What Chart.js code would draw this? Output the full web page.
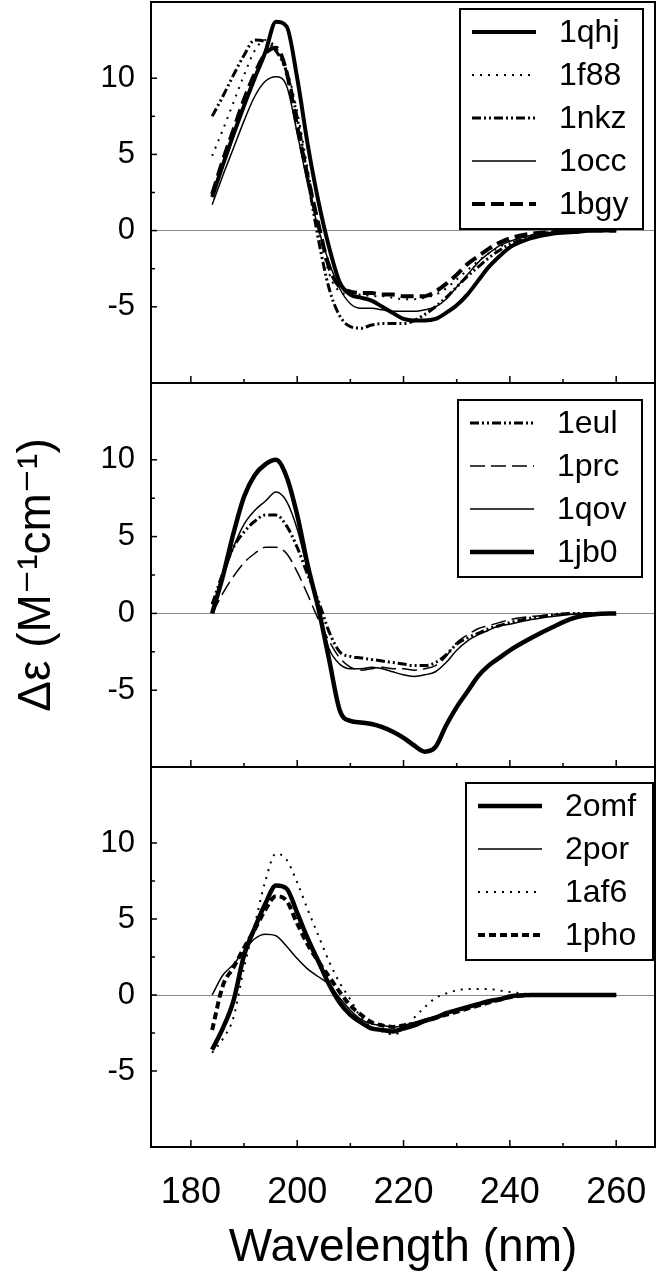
<!DOCTYPE html>
<html>
<head>
<meta charset="utf-8">
<script src="https://cdn.jsdelivr.net/npm/chart.js@4"></script>
<style>
  html, body { margin: 0; padding: 0; background: #fff; }
  #wrap { position: relative; width: 663px; height: 1280px; }
  canvas { position: absolute; left: 0; }
</style>
</head>
<body>
<div id="wrap">
  <canvas id="cdTop" width="663" height="385" style="top:0px"></canvas>
  <canvas id="cdMid" width="663" height="388" style="top:381px"></canvas>
  <canvas id="cdBot" width="663" height="515" style="top:765px"></canvas>
</div>
<script>
// wavelength grid (nm), shared by all three panels
const wavelengths = [184, 186, 188, 190, 192, 194, 196, 198, 200, 202, 204, 206, 208, 210, 212, 214, 216, 218, 220,
  222, 224, 226, 228, 230, 232, 234, 236, 238, 240, 244, 248, 252, 256, 260];

// tick labels
const xTickLabels = [180, 200, 220, 240, 260];
const yTickLabels = [-5, 0, 5, 10];

// top panel
const topNames = ['1qhj', '1f88', '1nkz', '1occ', '1bgy'];
const cd1qhj = [2.2, 4.3, 6.3, 8.2, 10.0, 11.7, 13.7, 13.4, 10.0, 5.6, 1.9, -1.1, -3.4, -4.2, -4.4, -4.6, -5.0, -5.4, -5.8,
  -5.9, -5.9, -5.8, -5.4, -4.9, -4.2, -3.3, -2.4, -1.7, -1.1, -0.5, -0.2, -0.1, 0, 0];
const cd1f88 = [4.9, 6.6, 8.4, 10.2, 11.8, 12.5, 12.0, 10.6, 7.8, 4.0, 0.2, -2.8, -4.0, -4.2, -4.2, -4.3, -4.3, -4.4, -4.5,
  -4.5, -4.4, -4.2, -3.8, -3.2, -2.6, -2.0, -1.5, -1.1, -0.7, -0.3, -0.1, 0, 0, 0];
const cd1nkz = [7.5, 8.8, 10.2, 11.5, 12.5, 12.4, 11.8, 10.4, 7.4, 3.4, -0.6, -3.8, -5.6, -6.3, -6.4, -6.2, -6.1, -6.1, -6.1,
  -5.9, -5.5, -5.0, -4.4, -3.7, -3.0, -2.4, -1.8, -1.3, -0.9, -0.4, -0.1, 0, 0, 0];
const cd1occ = [1.7, 3.6, 5.4, 7.2, 8.8, 9.8, 10.1, 9.5, 6.4, 3.0, 0.1, -2.1, -3.8, -4.8, -5.1, -5.1, -5.2, -5.3, -5.3,
  -5.3, -5.2, -5.0, -4.5, -3.7, -2.9, -2.1, -1.5, -1.0, -0.7, -0.3, -0.1, 0, 0, 0];
const cd1bgy = [2.4, 4.6, 6.6, 8.6, 10.3, 11.6, 12.0, 10.4, 6.8, 3.5, 0.4, -2.4, -3.7, -4.0, -4.1, -4.1, -4.2, -4.2, -4.3,
  -4.3, -4.3, -4.0, -3.5, -2.9, -2.2, -1.7, -1.2, -0.8, -0.5, -0.2, -0.1, 0, 0, 0];

// middle panel
const midNames = ['1eul', '1prc', '1qov', '1jb0'];
const cd1eul = [0.6, 2.6, 4.3, 5.3, 6.0, 6.4, 6.4, 5.7, 4.3, 2.5, 0.8, -1.2, -2.5, -2.8, -2.9, -3.0, -3.1, -3.2, -3.3,
  -3.4, -3.4, -3.2, -2.7, -2.0, -1.6, -1.3, -1.0, -0.8, -0.6, -0.3, -0.1, 0, 0, 0];
const cd1prc = [0, 1.3, 2.4, 3.3, 3.9, 4.3, 4.3, 3.9, 2.7, 1.2, -0.4, -1.8, -2.9, -3.5, -3.7, -3.6, -3.5, -3.6, -3.6,
  -3.7, -3.6, -3.4, -2.8, -1.9, -1.4, -1.0, -0.8, -0.6, -0.4, -0.2, -0.1, 0, 0, 0];
const cd1qov = [0.1, 2.3, 4.3, 5.8, 6.7, 7.3, 7.9, 7.3, 5.5, 2.8, 0.2, -2.3, -3.3, -3.6, -3.6, -3.5, -3.6, -3.8, -4.0,
  -4.1, -4.0, -3.8, -3.2, -2.4, -1.8, -1.4, -1.1, -0.8, -0.7, -0.4, -0.2, -0.05, 0, 0];
const cd1jb0 = [0, 2.4, 5.2, 7.6, 9.0, 9.7, 10.0, 8.9, 6.4, 3.1, 0.3, -3.0, -6.3, -7.0, -7.1, -7.2, -7.4, -7.7, -8.1,
  -8.6, -9.0, -8.7, -7.3, -6.1, -5.1, -4.1, -3.4, -2.9, -2.4, -1.6, -0.9, -0.3, -0.05, 0];

// bottom panel
const botNames = ['2omf', '2por', '1af6', '1pho'];
const cd2omf = [-3.6, -2.2, -0.4, 2.6, 4.4, 6.0, 7.2, 7.0, 5.4, 3.7, 2.2, 0.7, -0.5, -1.3, -1.8, -2.2, -2.3, -2.4, -2.2,
  -2.0, -1.7, -1.5, -1.2, -1.0, -0.8, -0.6, -0.4, -0.3, -0.1, 0, 0, 0, 0, 0];
const cd2por = [0, 1.3, 2.0, 2.9, 3.7, 4.0, 3.9, 3.2, 2.4, 1.7, 1.2, 0.7, -0.2, -1.0, -1.6, -1.9, -2.0, -2.1, -2.0,
  -1.8, -1.6, -1.4, -1.2, -1.0, -0.8, -0.6, -0.4, -0.3, -0.1, 0, 0, 0, 0, 0];
const cd1af6 = [-3.8, -2.9, -1.5, 1.8, 4.6, 7.5, 9.3, 8.9, 7.4, 5.6, 3.9, 2.2, 0.8, -0.3, -1.5, -2.1, -2.4, -2.6, -2.3,
  -1.5, -0.8, -0.2, 0.1, 0.3, 0.4, 0.4, 0.4, 0.3, 0.2, 0.05, 0, 0, 0, 0];
const cd1pho = [-2.3, 0.6, 1.8, 3.1, 4.3, 5.6, 6.5, 6.2, 4.7, 3.3, 2.2, 1.2, 0.2, -0.7, -1.3, -1.8, -2.0, -2.1, -2.0,
  -1.9, -1.7, -1.5, -1.3, -1.1, -0.9, -0.7, -0.5, -0.3, -0.15, 0, 0, 0, 0, 0];


// line styles (width in px, dash pattern)
const topStyles = [
  { width: 4, dash: [] },
  { width: 2, dash: [2, 6] },
  { width: 3, dash: [9, 3, 2, 3, 2, 3] },
  { width: 1.5, dash: [] },
  { width: 4, dash: [13, 6] }
];
const midStyles = [
  { width: 3, dash: [9, 3, 2, 3, 2, 3] },
  { width: 1.5, dash: [15, 6] },
  { width: 1.5, dash: [] },
  { width: 4.5, dash: [] }
];
const botStyles = [
  { width: 4.5, dash: [] },
  { width: 1.5, dash: [] },
  { width: 2, dash: [2, 6] },
  { width: 4, dash: [7, 4] }
];

const fontFamily = '"Liberation Sans", Arial, Helvetica, "DejaVu Sans", sans-serif';


function makeDataset(name, values, style) {
  return {
    label: name,
    data: wavelengths.map(function (w, i) { return { x: w, y: values[i] }; }),
    borderColor: '#000',
    borderWidth: style.width,
    borderDash: style.dash,
    borderCapStyle: 'butt',
    pointRadius: 0,
    fill: false,
    cubicInterpolationMode: 'monotone'
  };
}


// frame, inward ticks and the boxed key, drawn over the curves
const frameAndKey = {
  id: 'frameAndKey',
  afterDatasetsDraw(chart, args, opts) {
    const ctx = chart.ctx;
    const area = chart.chartArea;
    const xs = chart.scales.x;
    const ys = chart.scales.y;

    ctx.save();
    ctx.strokeStyle = '#000';
    ctx.setLineDash([]);

    function seg(x1, y1, x2, y2) {
      ctx.beginPath();
      ctx.moveTo(x1, y1);
      ctx.lineTo(x2, y2);
      ctx.stroke();
    }

    // x ticks along the bottom edge
    ctx.lineWidth = 1.5;
    for (let i = 0; i < xTickLabels.length; i++) {
      const px = xs.getPixelForValue(xTickLabels[i]);
      seg(px, area.bottom, px, area.bottom - 7);
      if (i < xTickLabels.length - 1) {
        const mx = xs.getPixelForValue((xTickLabels[i] + xTickLabels[i + 1]) / 2);
        seg(mx, area.bottom, mx, area.bottom - 4);
      }
    }

    // y ticks along the left edge
    for (let i = 0; i < yTickLabels.length; i++) {
      const py = ys.getPixelForValue(yTickLabels[i]);
      seg(area.left, py, area.left + 6, py);
      if (i < yTickLabels.length - 1) {
        const my = ys.getPixelForValue((yTickLabels[i] + yTickLabels[i + 1]) / 2);
        seg(area.left, my, area.left + 4, my);
      }
    }

    // panel frame
    ctx.lineWidth = 2;
    ctx.strokeRect(area.left, area.top, area.right - area.left, area.bottom - area.top);

    // key box
    const sets = chart.data.datasets;
    const rowH = 43;
    const boxW = opts.boxWidth;
    const boxH = sets.length * rowH + 5;
    const bx = area.right - opts.right - boxW;
    const by = area.top + opts.top;

    ctx.fillStyle = '#fff';
    ctx.fillRect(bx, by, boxW, boxH);
    ctx.lineWidth = 2;
    ctx.strokeRect(bx, by, boxW, boxH);

    ctx.font = '32px ' + fontFamily;
    ctx.textBaseline = 'middle';
    ctx.textAlign = 'left';
    for (let i = 0; i < sets.length; i++) {
      const rowY = by + 23 + i * rowH;
      ctx.lineWidth = sets[i].borderWidth;
      ctx.setLineDash(sets[i].borderDash);
      ctx.lineCap = 'butt';
      seg(bx + 12, rowY, bx + 76, rowY);
      ctx.setLineDash([]);
      ctx.fillStyle = '#000';
      ctx.fillText(sets[i].label, bx + 99, rowY + 1);
    }
    ctx.restore();
  }
};


function buildPanel(canvasId, names, seriesList, styles, keyPos, isBottom, showYTitle, pad) {
  const datasets = [];
  for (let i = 0; i < names.length; i++) {
    datasets.push(makeDataset(names[i], seriesList[i], styles[i]));
  }

  const xAxis = {
    type: 'linear',
    min: 172.5,
    max: 267.3,
    grid: { display: false },
    border: { display: false },
    afterBuildTicks: function (axis) {
      axis.ticks = xTickLabels.map(function (v) { return { value: v }; });
    },
    ticks: {
      display: isBottom,
      padding: 16,
      color: '#000',
      font: { family: fontFamily, size: 36 },
      maxRotation: 0
    },
    title: {
      display: isBottom,
      text: 'Wavelength (nm)',
      color: '#000',
      font: { family: fontFamily, size: 46 },
      padding: { top: 0, bottom: 4 }
    },
    afterFit: function (axis) {
      axis.height = isBottom ? 133 : 0;
      axis.paddingLeft = 0;
      axis.paddingRight = 0;
    }
  };

  const yAxis = {
    type: 'linear',
    min: -10,
    max: 15,
    border: { display: false },
    grid: {
      drawTicks: false,
      lineWidth: 1,
      color: function (c) {
        return (c.tick && c.tick.value === 0) ? '#8a8a8a' : 'rgba(0,0,0,0)';
      }
    },
    afterBuildTicks: function (axis) {
      axis.ticks = yTickLabels.map(function (v) { return { value: v }; });
    },
    ticks: {
      padding: 16,
      color: '#000',
      font: { family: fontFamily, size: 31 },
      callback: function (v) { return String(v); }
    },
    title: {
      display: showYTitle,
      text: 'Δε (M⁻¹cm⁻¹)',
      color: '#000',
      font: { family: fontFamily, size: 46 },
      padding: { top: 10, bottom: 0 }
    },
    afterFit: function (axis) {
      axis.width = 151;
      axis.paddingTop = 0;
      axis.paddingBottom = 0;
    }
  };

  return new Chart(document.getElementById(canvasId), {
    type: 'line',
    data: { datasets: datasets },
    options: {
      responsive: false,
      animation: false,
      devicePixelRatio: 1,
      layout: { padding: pad },
      scales: { x: xAxis, y: yAxis },
      plugins: {
        legend: { display: false },
        tooltip: { enabled: false },
        frameAndKey: keyPos
      }
    },
    plugins: [frameAndKey]
  });
}


const topChart = buildPanel('cdTop', topNames, [cd1qhj, cd1f88, cd1nkz, cd1occ, cd1bgy], topStyles,
  { right: 12, top: 7, boxWidth: 183 }, false, false, { left: 0, right: 8, top: 2, bottom: 2 });

const midChart = buildPanel('cdMid', midNames, [cd1eul, cd1prc, cd1qov, cd1jb0], midStyles,
  { right: 13, top: 17, boxWidth: 184 }, false, true, { left: 0, right: 8, top: 2, bottom: 2 });

const botChart = buildPanel('cdBot', botNames, [cd2omf, cd2por, cd1af6, cd1pho], botStyles,
  { right: 2, top: 16, boxWidth: 187 }, true, false, { left: 0, right: 8, top: 2, bottom: 0 });
</script>
</body>
</html>
